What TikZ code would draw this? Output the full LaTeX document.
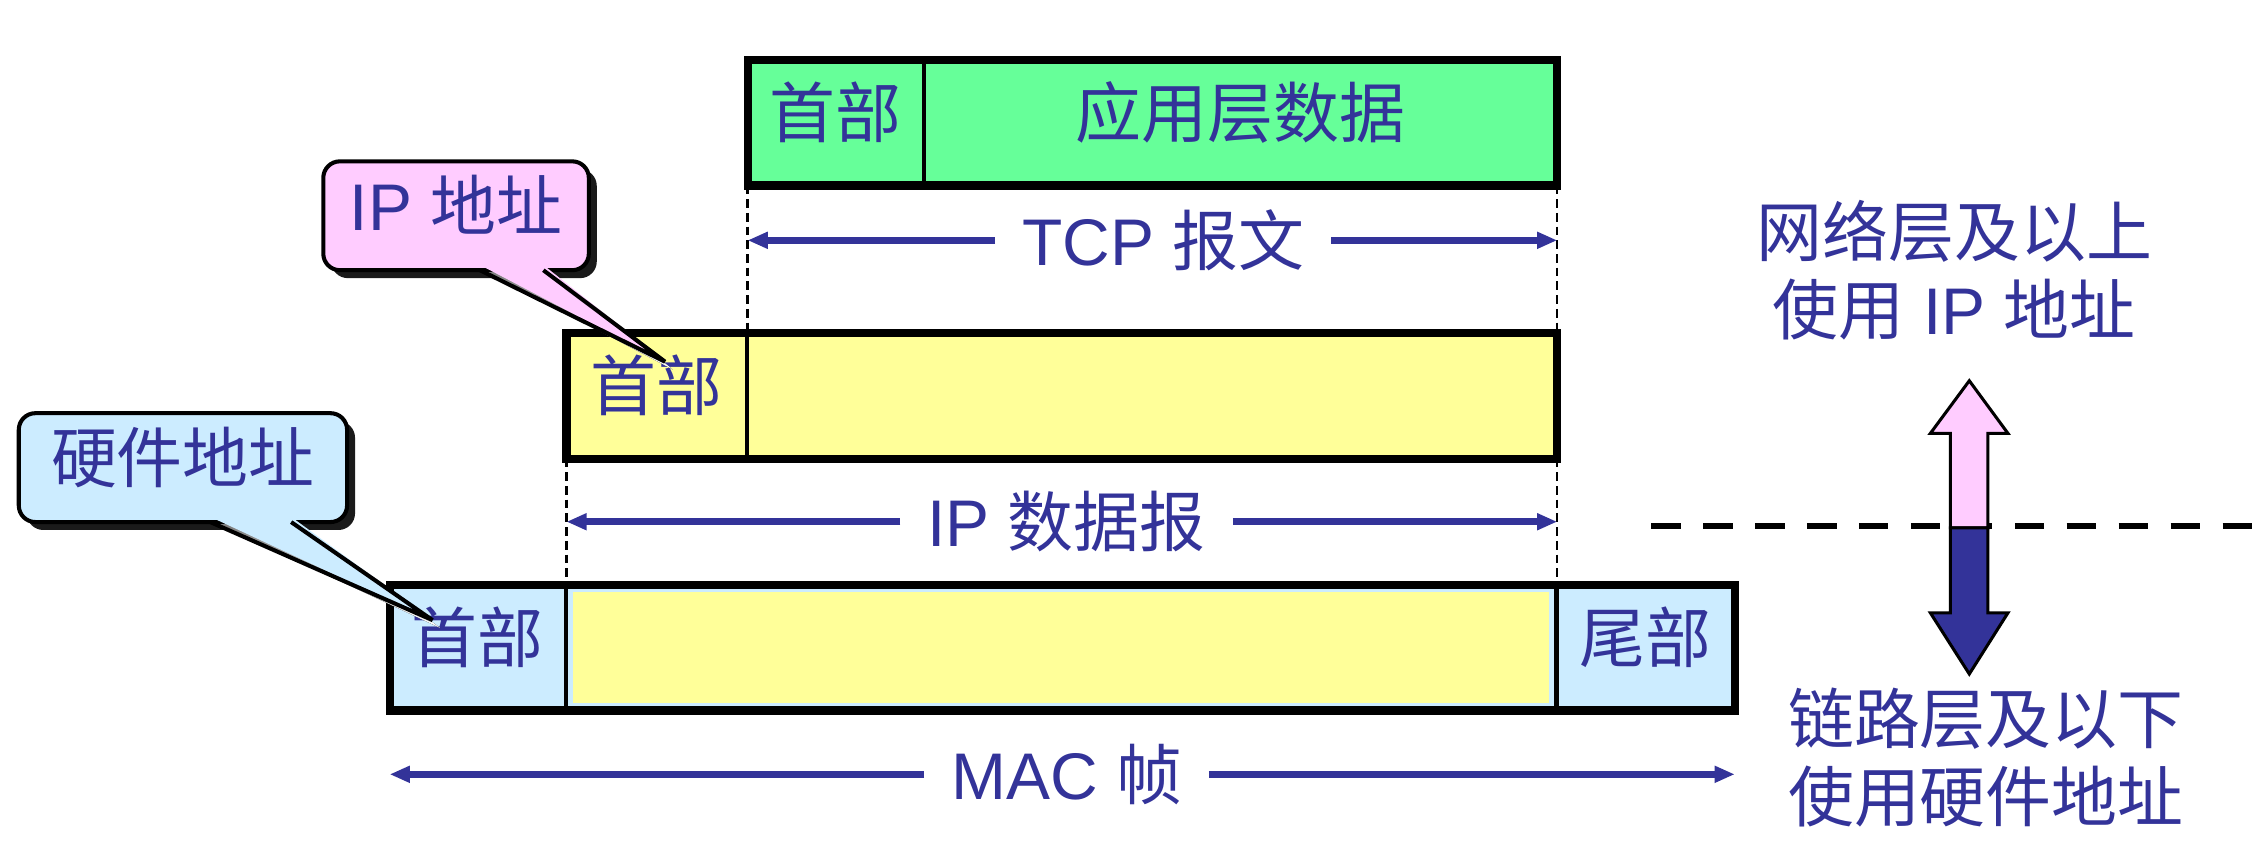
\documentclass[tikz,border=0pt]{standalone}
\usepackage{fontspec}
\setmainfont{Liberation Sans}
\newfontfamily\cjk{Noto Sans CJK SC}
\usepackage{tikz}
\usetikzlibrary{arrows.meta,positioning,shadows}

\definecolor{tcpgreen}{HTML}{66FF99}
\definecolor{ipyellow}{HTML}{FFFF99}
\definecolor{macblue}{HTML}{CCECFF}
\definecolor{tippink}{HTML}{FFCCFF}
\definecolor{labblue}{HTML}{333399}
\definecolor{shade}{HTML}{1A1A1A}

\begin{document}
\begin{tikzpicture}[x=0.1mm, y=-0.1mm,
    seg/.style={draw, line width=0.85pt, outer sep=0pt, inner sep=0pt, minimum height=8.7mm,
        text height=3.6mm, text depth=1.6mm, text=labblue, font=\fontsize{13}{15.4}\selectfont\cjk},
    frame/.style={draw, line width=1.6pt},
    ext/.style={dash pattern=on 0.6mm off 0.35mm, line width=0.45pt},
    dimlbl/.style={text=labblue, inner xsep=1.8mm, inner ysep=0.5mm, font=\fontsize{13}{15.4}\selectfont},
    dimarrow/.style={labblue, line width=1.3pt, -{Triangle[length=1.4mm,width=1.1mm]}},
    note/.style={draw, line width=0.8pt, rounded corners=1.15mm, text=labblue, text height=3.6mm, text depth=1.6mm,
        font=\fontsize{13}{15.4}\selectfont, drop shadow={shadow xshift=0.55mm, shadow yshift=-0.55mm, fill=shade, opacity=1}},
    pointer/.style={draw, line width=0.8pt},
    sidetxt/.style={align=center, text=labblue, font=\fontsize{13}{15.4}\selectfont},
    blockarrow/.style={draw, line width=0.6pt},
    layerline/.style={line width=1.3pt, dash pattern=on 2.05mm off 1.55mm}
]
\useasboundingbox (0,0) rectangle (1568,585);

% TCP segment
\node[seg, fill=tcpgreen, minimum width=12.2mm] (tcph) at (579,85) {首部};
\node[seg, fill=tcpgreen, minimum width=43.9mm, right=0pt of tcph] (tcpd) {应用层数据};
\draw[frame] (tcph.north west) rectangle (tcpd.south east);

% IP datagram
\node[seg, fill=ipyellow, minimum width=12.5mm] (iph) at (455,274.25) {首部};
\node[seg, fill=ipyellow, minimum width=56.15mm, right=0pt of iph] (ipd) {};
\draw[frame] (iph.north west) rectangle (ipd.south east);

% MAC frame
\node[seg, fill=macblue, minimum width=12.2mm] (mach) at (331,448.75) {首部};
\node[seg, fill=macblue, minimum width=68.65mm, right=0pt of mach] (macd) {};
\node[seg, fill=macblue, minimum width=12.35mm, right=0pt of macd] (mact) {尾部};
\fill[ipyellow] ([shift={(0.5mm,0.5mm)}]macd.south west) rectangle ([shift={(-0.5mm,-0.5mm)}]macd.north east);
\draw[frame] (mach.north west) rectangle (mact.south east);

% extension lines
\draw[ext] (tcph.south west) -- (tcph.south west |- iph.north);
\draw[ext] (tcpd.south east) -- (tcpd.south east |- ipd.north);
\draw[ext] (iph.south west) -- (iph.south west |- mach.north);
\draw[ext] (ipd.south east) -- (ipd.south east |- macd.north);

% length arrows
\node[dimlbl] (tcplbl) at (806,166.5) {TCP {\cjk 报文}};
\draw[dimarrow] (tcplbl) -- (tcph.west |- tcplbl);
\draw[dimarrow] (tcplbl) -- (tcpd.east |- tcplbl);

\node[dimlbl] (iplbl) at (739,361.5) {IP {\cjk 数据报}};
\draw[dimarrow] (iplbl) -- (iph.west |- iplbl);
\draw[dimarrow] (iplbl) -- (ipd.east |- iplbl);

\node[dimlbl] (maclbl) at (739,536.5) {MAC {\cjk 帧}};
\draw[dimarrow] (maclbl) -- (mach.west |- maclbl);
\draw[dimarrow] (maclbl) -- (mact.east |- maclbl);

% IP address callout
\node[note, fill=tippink, minimum width=18.4mm, minimum height=7.1mm] (ipnote) at (316,149.5) {IP {\cjk 地址}};
\coordinate (iptip) at (460.8,250.6);
\fill[shade] ([xshift=2.2mm]ipnote.south) -- ([shift={(0.55mm,-0.55mm)}]iptip) -- ([xshift=6.6mm]ipnote.south) -- cycle;
\fill[tippink] ([xshift=1.66mm,yshift=0.5mm]ipnote.south) -- (iptip) -- ([xshift=6.05mm,yshift=0.5mm]ipnote.south) -- cycle;
\draw[pointer] ([xshift=1.66mm,yshift=0.14mm]ipnote.south) -- (iptip) -- ([xshift=6.05mm,yshift=0.14mm]ipnote.south);

% hardware address callout
\node[note, fill=macblue, minimum width=22.75mm, minimum height=7.5mm] (hwnote) at (126.75,324) {\cjk 硬件地址};
\coordinate (hwtip) at (299.7,429.7);
\fill[shade] ([xshift=2.45mm]hwnote.south) -- ([shift={(0.55mm,-0.55mm)}]hwtip) -- ([xshift=8.05mm]hwnote.south) -- cycle;
\fill[macblue] ([xshift=1.9mm,yshift=0.5mm]hwnote.south) -- (hwtip) -- ([xshift=7.5mm,yshift=0.5mm]hwnote.south) -- cycle;
\draw[pointer] ([xshift=1.9mm,yshift=0.14mm]hwnote.south) -- (hwtip) -- ([xshift=7.5mm,yshift=0.14mm]hwnote.south);

% layers on the right
\node[sidetxt] (upper) at (1354,187) {{\cjk 网络层及以上}\\{\cjk 使用} IP {\cjk 地址}};
\node[sidetxt] (lower) at (1376,524.6) {{\cjk 链路层及以下}\\{\cjk 使用硬件地址}};
\draw[layerline] (1144,364.5) -- (1568,364.5);
\draw[blockarrow, fill=tippink] (1351.4,365.7) -- (1351.4,300.3) -- (1337.5,300.3) -- (1364.5,263.8)
    -- (1391.3,300.3) -- (1377.4,300.3) -- (1377.4,365.7) -- cycle;
\draw[blockarrow, fill=labblue] (1351.4,365.7) -- (1351.4,424.6) -- (1337.5,424.6) -- (1364.5,467)
    -- (1391.3,424.6) -- (1377.4,424.6) -- (1377.4,365.7) -- cycle;

\end{tikzpicture}
\end{document}
